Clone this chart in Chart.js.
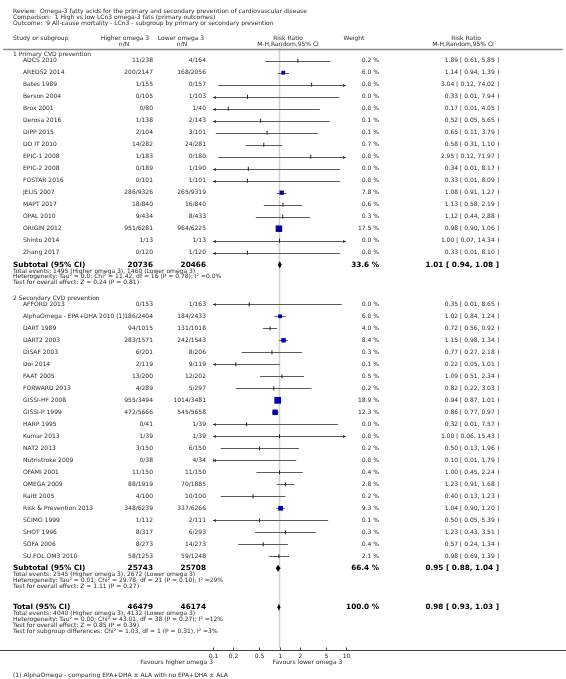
<!DOCTYPE html>
<html lang="en">
<head>
<meta charset="UTF-8"/>
<title>Forest plot - All-cause mortality</title>
<script src="https://cdn.jsdelivr.net/npm/chart.js"></script>
<style>
    html, body { margin: 0; padding: 0; background: #fff; }
    canvas { display: block; }
</style>
</head>
<body>
<canvas id="forest" width="566" height="679"></canvas>
<script>
    // 1 Primary CVD prevention
    const primaryStudies = ['ADCS 2010', 'AREDS2 2014', 'Bates 1989', 'Berson 2004', 'Brox 2001', 'Derosa 2016',
        'DIPP 2015', 'DO IT 2010', 'EPIC-1 2008', 'EPIC-2 2008', 'FOSTAR 2016', 'JELIS 2007', 'MAPT 2017',
        'OPAL 2010', 'ORIGIN 2012', 'Shinto 2014', 'Zhang 2017'];
    const primaryHigher = ['11/238', '200/2147', '1/155', '0/105', '0/80', '1/138', '2/104', '14/282', '1/183',
        '0/189', '0/101', '286/9326', '18/840', '9/434', '951/6281', '1/13', '0/120'];
    const primaryLower = ['4/164', '168/2056', '0/157', '1/103', '1/40', '2/143', '3/101', '24/281', '0/180',
        '1/190', '1/101', '265/9319', '16/840', '8/433', '964/6225', '1/13', '1/120'];
    const primaryWeight = [0.2, 6.0, 0.0, 0.0, 0.0, 0.1, 0.1, 0.7, 0.0, 0.0, 0.0, 7.8, 0.6, 0.3, 17.5, 0.0, 0.0];
    const primaryRR = [1.89, 1.14, 3.04, 0.33, 0.17, 0.52, 0.65, 0.58, 2.95, 0.34, 0.33, 1.08, 1.13, 1.12, 0.98, 1.00, 0.33];
    const primaryLo = [0.61, 0.94, 0.12, 0.01, 0.01, 0.05, 0.11, 0.31, 0.12, 0.01, 0.01, 0.91, 0.58, 0.44, 0.90, 0.07, 0.01];
    const primaryHi = [5.85, 1.39, 74.02, 7.94, 4.05, 5.65, 3.79, 1.10, 71.97, 8.17, 8.09, 1.27, 2.19, 2.88, 1.06, 14.34, 8.10];

    // 2 Secondary CVD prevention
    const secondaryStudies = ['AFFORD 2013', 'AlphaOmega - EPA+DHA 2010 (1)', 'DART 1989', 'DART2 2003', 'DISAF 2003',
        'Doi 2014', 'FAAT 2005', 'FORWARD 2013', 'GISSI-HF 2008', 'GISSI-P 1999', 'HARP 1995', 'Kumar 2013',
        'NAT2 2013', 'Nutristroke 2009', 'OFAMI 2001', 'OMEGA 2009', 'Raitt 2005', 'Risk & Prevention 2013',
        'SCIMO 1999', 'SHOT 1996', 'SOFA 2006', 'SU.FOL.OM3 2010'];
    const secondaryHigher = ['0/153', '186/2404', '94/1015', '283/1571', '6/201', '2/119', '13/200', '4/289',
        '955/3494', '472/5666', '0/41', '1/39', '3/150', '0/38', '11/150', '88/1919', '4/100', '348/6239',
        '1/112', '8/317', '8/273', '58/1253'];
    const secondaryLower = ['1/163', '184/2433', '131/1018', '242/1543', '8/206', '9/119', '12/202', '5/297',
        '1014/3481', '545/5658', '1/39', '1/39', '6/150', '4/34', '11/150', '70/1885', '10/100', '337/6266',
        '2/111', '6/293', '14/273', '59/1248'];
    const secondaryWeight = [0.0, 6.0, 4.0, 8.4, 0.3, 0.1, 0.5, 0.2, 18.9, 12.3, 0.0, 0.0, 0.2, 0.0, 0.4, 2.8,
        0.2, 9.3, 0.1, 0.3, 0.4, 2.1];
    const secondaryRR = [0.35, 1.02, 0.72, 1.15, 0.77, 0.22, 1.09, 0.82, 0.94, 0.86, 0.32, 1.00, 0.50, 0.10, 1.00,
        1.23, 0.40, 1.04, 0.50, 1.23, 0.57, 0.98];
    const secondaryLo = [0.01, 0.84, 0.56, 0.98, 0.27, 0.05, 0.51, 0.22, 0.87, 0.77, 0.01, 0.06, 0.13, 0.01, 0.45,
        0.91, 0.13, 0.90, 0.05, 0.43, 0.24, 0.69];
    const secondaryHi = [8.65, 1.24, 0.92, 1.34, 2.18, 1.01, 2.34, 3.03, 1.01, 0.97, 7.57, 15.43, 1.96, 1.79, 2.24,
        1.68, 1.23, 1.20, 5.39, 3.51, 1.34, 1.39];

    // pooled estimates: [subtotal 1, subtotal 2, total]
    const pooledLabels = ['Subtotal (95% CI)', 'Subtotal (95% CI)', 'Total (95% CI)'];
    const pooledHigherN = [20736, 25743, 46479];
    const pooledLowerN = [20466, 25708, 46174];
    const pooledWeight = [33.6, 66.4, 100.0];
    const pooledRR = [1.01, 0.95, 0.98];
    const pooledLo = [0.94, 0.88, 0.93];
    const pooledHi = [1.08, 1.04, 1.03];
    const pooledNotes = [
        ['Total events: 1495 (Higher omega 3), 1460 (Lower omega 3)',
         'Heterogeneity: Tau\u00b2 = 0.0; Chi\u00b2 = 11.42, df = 16 (P = 0.78); I\u00b2 =0.0%',
         'Test for overall effect: Z = 0.24 (P = 0.81)'],
        ['Total events: 2545 (Higher omega 3), 2672 (Lower omega 3)',
         'Heterogeneity: Tau\u00b2 = 0.01; Chi\u00b2 = 29.78, df = 21 (P = 0.10); I\u00b2 =29%',
         'Test for overall effect: Z = 1.11 (P = 0.27)'],
        ['Total events: 4040 (Higher omega 3), 4132 (Lower omega 3)',
         'Heterogeneity: Tau\u00b2 = 0.00; Chi\u00b2 = 43.01, df = 38 (P = 0.27); I\u00b2 =12%',
         'Test for overall effect: Z = 0.85 (P = 0.39)',
         'Test for subgroup differences: Chi\u00b2 = 1.03, df = 1 (P = 0.31), I\u00b2 =3%']
    ];

    const sectionTitles = ['1 Primary CVD prevention', '2 Secondary CVD prevention'];
    const axisTicks = [0.1, 0.2, 0.5, 1, 2, 5, 10];
    const axisTickLabels = ['0.1', '0.2', '0.5', '1', '2', '5', '10'];
    const titleLines = [
        'Review:  Omega-3 fatty acids for the primary and secondary prevention of cardiovascular disease',
        'Comparison:  1 High vs low LCn3 omega-3 fats (primary outcomes)',
        'Outcome:  9 All-cause mortality - LCn3 - subgroup by primary or secondary prevention'
    ];
    const footnote = '(1) AlphaOmega - comparing EPA+DHA \u00b1 ALA with no EPA+DHA \u00b1 ALA';

    // ---- row layout (in row units, 12px each) ----
    const sec2Start = 20.3;
    const studies = [];
    primaryStudies.forEach((name, i) => studies.push({
        name, hi: primaryHigher[i], lo: primaryLower[i], w: primaryWeight[i],
        rr: primaryRR[i], l: primaryLo[i], h: primaryHi[i], y: i
    }));
    secondaryStudies.forEach((name, i) => studies.push({
        name, hi: secondaryHigher[i], lo: secondaryLower[i], w: secondaryWeight[i],
        rr: secondaryRR[i], l: secondaryLo[i], h: secondaryHi[i], y: sec2Start + i
    }));
    const pooledRows = [primaryStudies.length, sec2Start + secondaryStudies.length, 45.55];
    const sectionRows = [-0.5, sec2Start - 0.52];

    const X_MIN = 0.1, X_MAX = 10;
    const BLUE = '#0000a8';
    const TXT = '#2a2a2a';
    const FONT = '"DejaVu Sans", sans-serif';

    // square side grows with study weight; tiny weights get a tick mark
    function boxSide(w) { return Math.sqrt(w) * 1.55; }

    const pointStyles = studies.map(s => boxSide(s.w) >= 3.5 ? 'rect' : 'line');
    const pointRadii = studies.map(s => boxSide(s.w) >= 3.5 ? boxSide(s.w) / Math.SQRT1_2 / 2 : 2);

    const forestPlugin = {
        id: 'forest',
        beforeDatasetsDraw(chart) {
            const { ctx, chartArea, scales: { x, y } } = chart;
            ctx.save();
            // line of no effect
            ctx.strokeStyle = '#d2d2d2';
            ctx.lineWidth = 1.6;
            const x1 = x.getPixelForValue(1);
            ctx.beginPath();
            ctx.moveTo(x1, chartArea.top);
            ctx.lineTo(x1, chartArea.bottom - 2);
            ctx.stroke();

            // confidence intervals
            ctx.strokeStyle = '#5a5a5a';
            ctx.fillStyle = '#333';
            ctx.lineWidth = 1;
            studies.forEach(s => {
                const py = Math.round(y.getPixelForValue(s.y)) + 0.5;
                const pl = x.getPixelForValue(Math.max(s.l, X_MIN));
                const ph = x.getPixelForValue(Math.min(s.h, X_MAX));
                ctx.beginPath();
                ctx.moveTo(pl, py);
                ctx.lineTo(ph, py);
                ctx.stroke();
                if (s.l < X_MIN) {
                    ctx.beginPath();
                    ctx.moveTo(pl, py);
                    ctx.lineTo(pl + 3, py - 1.6);
                    ctx.lineTo(pl + 3, py + 1.6);
                    ctx.closePath();
                    ctx.fill();
                }
                if (s.h > X_MAX) {
                    ctx.beginPath();
                    ctx.moveTo(ph, py);
                    ctx.lineTo(ph - 3, py - 1.6);
                    ctx.lineTo(ph - 3, py + 1.6);
                    ctx.closePath();
                    ctx.fill();
                }
            });

            // pooled diamonds
            ctx.fillStyle = '#000';
            pooledRows.forEach((row, i) => {
                const py = y.getPixelForValue(row);
                ctx.beginPath();
                ctx.moveTo(x.getPixelForValue(pooledLo[i]), py);
                ctx.lineTo(x.getPixelForValue(pooledRR[i]), py - 3.5);
                ctx.lineTo(x.getPixelForValue(pooledHi[i]), py);
                ctx.lineTo(x.getPixelForValue(pooledRR[i]), py + 3.5);
                ctx.closePath();
                ctx.fill();
            });
            ctx.restore();
        },
        afterDraw(chart) {
            const { ctx, chartArea, scales: { x, y } } = chart;
            const W = chart.width;
            ctx.save();
            ctx.textBaseline = 'middle';
            ctx.fillStyle = TXT;
            const reg = '6px ' + FONT;
            const bold = 'bold 7.3px ' + FONT;

            const text = (s, px, py, align, font) => {
                ctx.font = font || reg;
                ctx.textAlign = align || 'left';
                ctx.fillText(s, px, py);
            };

            // titles
            titleLines.forEach((t, i) => text(t, 13, 11.5 + i * 6, 'left'));

            // column headers
            const COL_NAME = 13, COL_STUDY = 23, COL_HIGH = 153, COL_LOW = 206, COL_W = 379, COL_CI = 499;
            const plotMid = 288;
            text('Study or subgroup', COL_NAME, 38.5);
            text('Higher omega 3', 125, 38.5, 'center');
            text('n/N', 124, 44.5, 'center');
            text('Lower omega 3', 181, 38.5, 'center');
            text('n/N', 182, 44.5, 'center');
            text('Risk Ratio', plotMid, 38.5, 'center');
            text('M-H,Random,95% CI', plotMid, 44.5, 'center');
            text('Weight', 354, 38.5, 'center');
            text('Risk Ratio', 466, 38.5, 'center');
            text('M-H,Random,95% CI', 463, 44.5, 'center');

            ctx.strokeStyle = '#8a8a8a';
            ctx.lineWidth = 1.5;
            ctx.beginPath();
            ctx.moveTo(3, 49.5);
            ctx.lineTo(563, 49.5);
            ctx.stroke();

            // section titles
            sectionRows.forEach((row, i) => text(sectionTitles[i], COL_NAME, y.getPixelForValue(row)));

            const ci = (rr, l, h) => `${rr.toFixed(2)} [ ${l.toFixed(2)}, ${h.toFixed(2)} ]`;

            // study rows
            studies.forEach(s => {
                const py = y.getPixelForValue(s.y);
                text(s.name, COL_STUDY, py);
                text(s.hi, COL_HIGH, py, 'right');
                text(s.lo, COL_LOW, py, 'right');
                text(s.w.toFixed(1) + ' %', COL_W, py, 'right');
                text(ci(s.rr, s.l, s.h), COL_CI, py, 'right');
            });

            // pooled rows
            pooledRows.forEach((row, i) => {
                const py = y.getPixelForValue(row);
                ctx.fillStyle = '#000';
                text(pooledLabels[i], COL_NAME, py, 'left', bold);
                text(String(pooledHigherN[i]), COL_HIGH, py, 'right', bold);
                text(String(pooledLowerN[i]), COL_LOW, py, 'right', bold);
                text(pooledWeight[i].toFixed(1) + ' %', COL_W, py, 'right', bold);
                text(ci(pooledRR[i], pooledLo[i], pooledHi[i]), COL_CI, py, 'right', bold);
                ctx.fillStyle = TXT;
                pooledNotes[i].forEach((n, k) => text(n, COL_NAME, py + 6.3 + k * 5.9));
            });

            // x axis
            const axY = chartArea.bottom + 0.5;
            ctx.strokeStyle = '#444';
            ctx.lineWidth = 1;
            ctx.beginPath();
            ctx.moveTo(0, axY);
            ctx.lineTo(W, axY);
            ctx.stroke();
            axisTicks.forEach((t, i) => {
                const px = Math.round(x.getPixelForValue(t)) + 0.5;
                ctx.beginPath();
                ctx.moveTo(px, axY - 3);
                ctx.lineTo(px, axY);
                ctx.stroke();
                text(axisTickLabels[i], px, axY + 6, 'center');
            });
            text('Favours higher omega 3', x.left, axY + 12, 'right');
            text('Favours lower omega 3', x.getPixelForValue(1) - 7, axY + 12, 'left');

            text(footnote, COL_NAME, 675);
            ctx.restore();
        }
    };

    new Chart(document.getElementById('forest'), {
        type: 'scatter',
        data: {
            datasets: [{
                data: studies.map(s => ({ x: s.rr, y: s.y })),
                pointStyle: pointStyles,
                pointRadius: pointRadii,
                pointRotation: pointStyles.map(p => p === 'line' ? 90 : 0),
                backgroundColor: BLUE,
                borderColor: pointStyles.map(p => p === 'line' ? '#222' : BLUE),
                pointBorderWidth: pointStyles.map(p => p === 'line' ? 1 : 0)
            }]
        },
        options: {
            responsive: false,
            devicePixelRatio: 1,
            animation: false,
            events: [],
            layout: { padding: { left: 213, right: 220, top: 48, bottom: 29 } },
            scales: {
                x: { type: 'logarithmic', min: X_MIN, max: X_MAX, display: false },
                y: { type: 'linear', reverse: true, min: -1.058, max: 49.108, display: false }
            },
            plugins: { legend: { display: false }, tooltip: { enabled: false } }
        },
        plugins: [forestPlugin]
    });
</script>
</body>
</html>
